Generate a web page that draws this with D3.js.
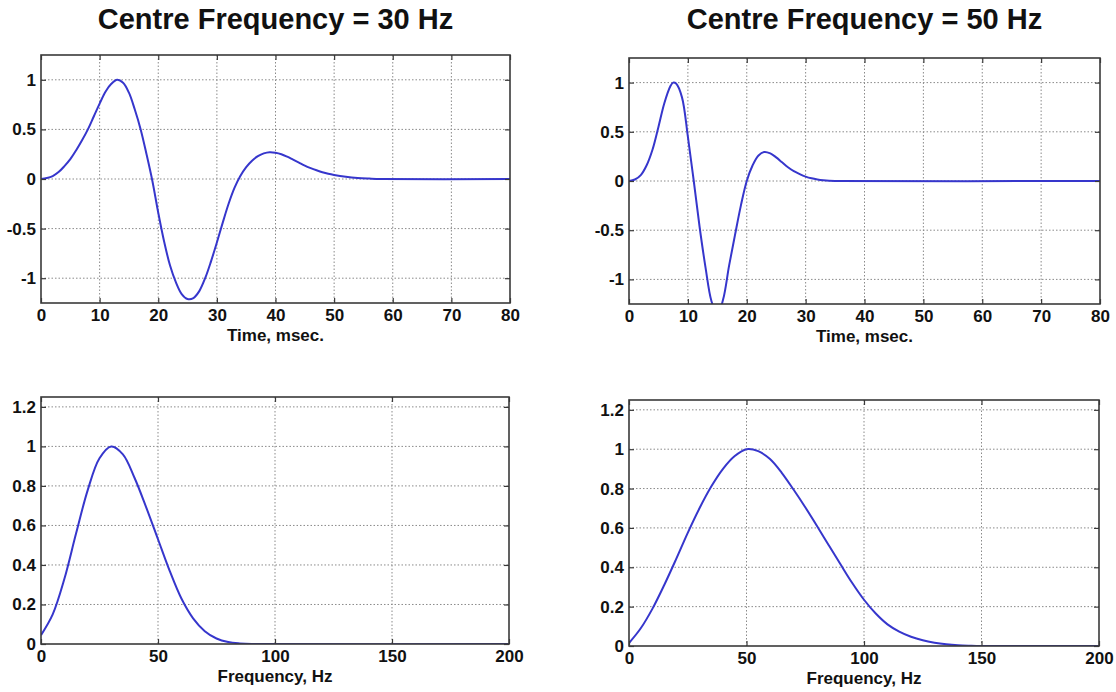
<!DOCTYPE html>
<html>
<head>
<meta charset="utf-8">
<script src="https://cdn.jsdelivr.net/npm/d3@7"></script>
<style>
  html, body { margin: 0; padding: 0; background: #ffffff; }
  svg { display: block; }
  text { font-family: "Liberation Sans", Arial, Helvetica, sans-serif; font-weight: bold; fill: #111; }
</style>
</head>
<body>
<svg id="chart" width="1116" height="692"></svg>
<script>
// ---------------- DATA ----------------
const titles = ["Centre Frequency = 30 Hz", "Centre Frequency = 50 Hz"];
const timeLabel = "Time, msec.";
const freqLabel = "Frequency, Hz";

// Time-domain wavelet, 30 Hz
const time30 = [0,1,2,3,4,5,6,7,8,9,10,11,12,13,14,15,16,17,18,19,20,21,22,23,24,25,26,27,28,29,30,31,32,33,34,35,36,37,38,39,40,41,42,43,44,45,46,47,48,49,50,52,54,56,58,80];
const amp30  = [0,0.01,0.03,0.07,0.13,0.2,0.29,0.39,0.5,0.63,0.76,0.88,0.96,1.0,0.97,0.87,0.7,0.5,0.25,-0.02,-0.34,-0.63,-0.87,-1.04,-1.16,-1.21,-1.2,-1.13,-1.0,-0.83,-0.64,-0.44,-0.25,-0.09,0.03,0.12,0.185,0.23,0.258,0.27,0.265,0.25,0.225,0.195,0.165,0.135,0.11,0.088,0.068,0.052,0.04,0.022,0.01,0.004,0,0];

// Time-domain wavelet, 50 Hz
const time50 = [0,1,2,3,4,5,6,7,7.5,8,9,10,11,12,13,14,15,16,17,18,19,20,21,22,23,24,25,26,27,28,29,30,31,32,33,34,35,80];
const amp50  = [0,0.015,0.06,0.16,0.32,0.55,0.79,0.96,1.0,0.99,0.85,0.45,0.0,-0.47,-0.88,-1.22,-1.36,-1.2,-0.86,-0.55,-0.25,0.0,0.16,0.26,0.295,0.28,0.24,0.19,0.14,0.1,0.07,0.045,0.027,0.015,0.007,0.002,0,0];

// Amplitude spectrum, 30 Hz
const freq30 = [0,5,10,15,20,25,30,35,40,45,50,55,60,65,70,75,80,85,90,200];
const spec30 = [0.045,0.15,0.33,0.56,0.78,0.94,1.0,0.96,0.84,0.69,0.53,0.37,0.23,0.13,0.065,0.028,0.01,0.003,0,0];

// Amplitude spectrum, 50 Hz
const freq50 = [0,5,10,15,20,25,30,35,40,45,50,55,60,65,70,75,80,85,90,95,100,105,110,115,120,125,130,135,140,145,150,200];
const spec50 = [0.015,0.09,0.19,0.31,0.44,0.575,0.7,0.81,0.9,0.965,1.0,0.99,0.95,0.88,0.795,0.705,0.61,0.512,0.415,0.32,0.235,0.165,0.11,0.073,0.047,0.029,0.017,0.009,0.004,0.0015,0,0];

// Tick values
const timeTicks = [0,10,20,30,40,50,60,70,80];
const ampTicks  = [-1,-0.5,0,0.5,1];
const freqTicks = [0,50,100,150,200];
const specTicks = [0,0.2,0.4,0.6,0.8,1,1.2];

// ---------------- DRAWING ----------------
const svg = d3.select("#chart");
const lineColor = "#3636cc";
const frameColor = "#3a3a3a";
const gridColor = "#8a8a8a";

const panels = [
  { box: {x0: 41, x1: 510, y0: 55,  y1: 303}, xd: [0,80],  yd: [-1.25,1.25], xs: time30, ys: amp30,  xt: timeTicks, yt: ampTicks,  xlab: timeLabel, title: titles[0] },
  { box: {x0: 629, x1: 1100, y0: 58, y1: 304}, xd: [0,80],  yd: [-1.25,1.25], xs: time50, ys: amp50,  xt: timeTicks, yt: ampTicks,  xlab: timeLabel, title: titles[1] },
  { box: {x0: 41, x1: 509, y0: 397, y1: 644}, xd: [0,200], yd: [0,1.25],     xs: freq30, ys: spec30, xt: freqTicks, yt: specTicks, xlab: freqLabel },
  { box: {x0: 629, x1: 1099, y0: 400, y1: 646}, xd: [0,200], yd: [0,1.25],   xs: freq50, ys: spec50, xt: freqTicks, yt: specTicks, xlab: freqLabel }
];

const fmt = d => String(d);

panels.forEach((p, i) => {
  const b = p.box;
  const x = d3.scaleLinear().domain(p.xd).range([b.x0, b.x1]);
  const y = d3.scaleLinear().domain(p.yd).range([b.y1, b.y0]);
  const g = svg.append("g");

  const clipId = "clip" + i;
  svg.append("clipPath").attr("id", clipId)
    .append("rect").attr("x", b.x0).attr("y", b.y0)
    .attr("width", b.x1 - b.x0).attr("height", b.y1 - b.y0);

  // grid (dotted)
  const grid = g.append("g");
  grid.selectAll("line.vx").data(p.xt.filter(v => v > p.xd[0] && v < p.xd[1])).enter()
    .append("line")
    .attr("x1", d => x(d)).attr("x2", d => x(d))
    .attr("y1", b.y0).attr("y2", b.y1)
    .attr("stroke", gridColor).attr("stroke-width", 1)
    .attr("stroke-dasharray", "1.5,2");
  grid.selectAll("line.hy").data(p.yt.filter(v => v > p.yd[0] && v < p.yd[1])).enter()
    .append("line")
    .attr("x1", b.x0).attr("x2", b.x1)
    .attr("y1", d => y(d)).attr("y2", d => y(d))
    .attr("stroke", gridColor).attr("stroke-width", 1)
    .attr("stroke-dasharray", "1.5,2");

  // data line
  const pts = p.xs.map((v, k) => [v, p.ys[k]]);
  const line = d3.line()
    .x(d => x(d[0])).y(d => y(d[1]))
    .curve(d3.curveCatmullRom.alpha(0.5));
  g.append("path")
    .datum(pts)
    .attr("clip-path", `url(#${clipId})`)
    .attr("d", line)
    .attr("fill", "none")
    .attr("stroke", lineColor)
    .attr("stroke-width", 2)
    .attr("stroke-linejoin", "round");

  // axes with inward ticks on all four sides
  const tl = 5;
  const axB = d3.axisBottom(x).tickValues(p.xt).tickSize(-tl).tickPadding(6).tickFormat(fmt);
  const axT = d3.axisTop(x).tickValues(p.xt).tickSize(-tl).tickFormat("");
  const axL = d3.axisLeft(y).tickValues(p.yt).tickSize(-tl).tickPadding(tl).tickFormat(fmt);
  const axR = d3.axisRight(y).tickValues(p.yt).tickSize(-tl).tickFormat("");

  const styleAxis = sel => {
    sel.select(".domain").remove();
    sel.selectAll(".tick line").attr("stroke", frameColor).attr("stroke-width", 1.2);
    sel.selectAll(".tick text").attr("fill", "#111")
      .style("font-size", "17px").style("font-weight", "bold")
      .style("font-family", '"Liberation Sans", Arial, sans-serif');
  };
  g.append("g").attr("transform", `translate(0,${b.y1})`).call(axB).call(styleAxis);
  g.append("g").attr("transform", `translate(0,${b.y0})`).call(axT).call(styleAxis);
  g.append("g").attr("transform", `translate(${b.x0},0)`).call(axL).call(styleAxis);
  g.append("g").attr("transform", `translate(${b.x1},0)`).call(axR).call(styleAxis);

  // frame
  g.append("rect")
    .attr("x", b.x0).attr("y", b.y0)
    .attr("width", b.x1 - b.x0).attr("height", b.y1 - b.y0)
    .attr("fill", "none").attr("stroke", frameColor).attr("stroke-width", 1.6);

  // x label
  g.append("text")
    .attr("x", (b.x0 + b.x1) / 2).attr("y", b.y1 + 38)
    .attr("text-anchor", "middle")
    .style("font-size", "17px")
    .text(p.xlab);

  // title
  if (p.title) {
    g.append("text")
      .attr("x", (b.x0 + b.x1) / 2).attr("y", 29)
      .attr("text-anchor", "middle")
      .style("font-size", "29px")
      .text(p.title);
  }
});
</script>
</body>
</html>
